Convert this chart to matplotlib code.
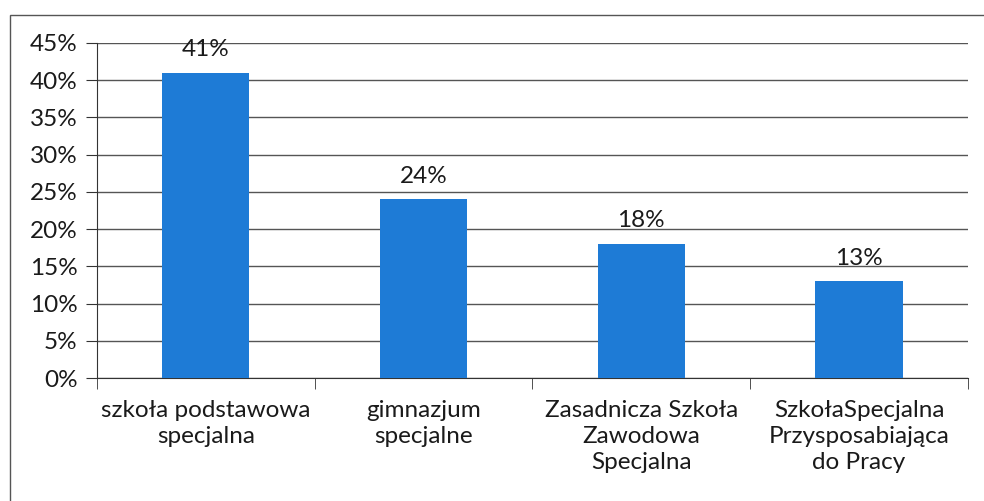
import matplotlib
matplotlib.use('Agg')
import matplotlib.pyplot as plt
from matplotlib.patches import Rectangle
from matplotlib.ticker import PercentFormatter, FixedLocator

# data
categories = ['szkoła podstawowa\nspecjalna', 'gimnazjum\nspecjalne',
              'Zasadnicza Szkoła\nZawodowa\nSpecjalna',
              'SzkołaSpecjalna\nPrzysposabiająca\ndo Pracy']
values = [41, 24, 18, 13]
yticks = [0, 5, 10, 15, 20, 25, 30, 35, 40, 45]

plt.rcParams['font.family'] = ['Lato', 'DejaVu Sans']
fs = 17.5

fig = plt.figure(figsize=(9.84, 5.01), dpi=100)
ax = fig.add_axes([0.0986, 0.2455, 0.885, 0.669])

x = range(len(values))
ax.bar(x, values, width=0.4, color='#1E7BD6', zorder=3)
for xi, v in zip(x, values):
    ax.annotate(f'{v}%', (xi, v), xytext=(0, 9), textcoords='offset points',
                ha='center', va='bottom', fontsize=fs, color='#1a1a1a')

ax.set_xlim(-0.5, len(values) - 0.5)
ax.set_ylim(0, 45)
ax.set_yticks(yticks)
ax.yaxis.set_major_formatter(PercentFormatter(decimals=0))
ax.grid(axis='y', color='#555555', linewidth=1, zorder=0)

ax.set_xticks(list(x))
ax.set_xticklabels(categories, fontsize=fs, linespacing=1.3, color='#1a1a1a')
ax.tick_params(axis='x', length=0, pad=16)
ax.xaxis.set_minor_locator(FixedLocator([-0.5, 0.5, 1.5, 2.5, 3.5]))
ax.tick_params(axis='x', which='minor', length=8, color='#333333', direction='out')
ax.tick_params(axis='y', labelsize=fs, length=8, pad=6, color='#333333', labelcolor='#1a1a1a')

for s in ['top', 'right']:
    ax.spines[s].set_visible(False)
ax.spines['left'].set_color('#333333')
ax.spines['bottom'].set_color('#333333')

# outer chart frame (scanned border)
fig.patches.append(Rectangle((0.0105, -0.05), 1.1, 1.02, transform=fig.transFigure,
                             fill=False, edgecolor='#555555', linewidth=1))

fig.savefig('out.png', dpi=100)
